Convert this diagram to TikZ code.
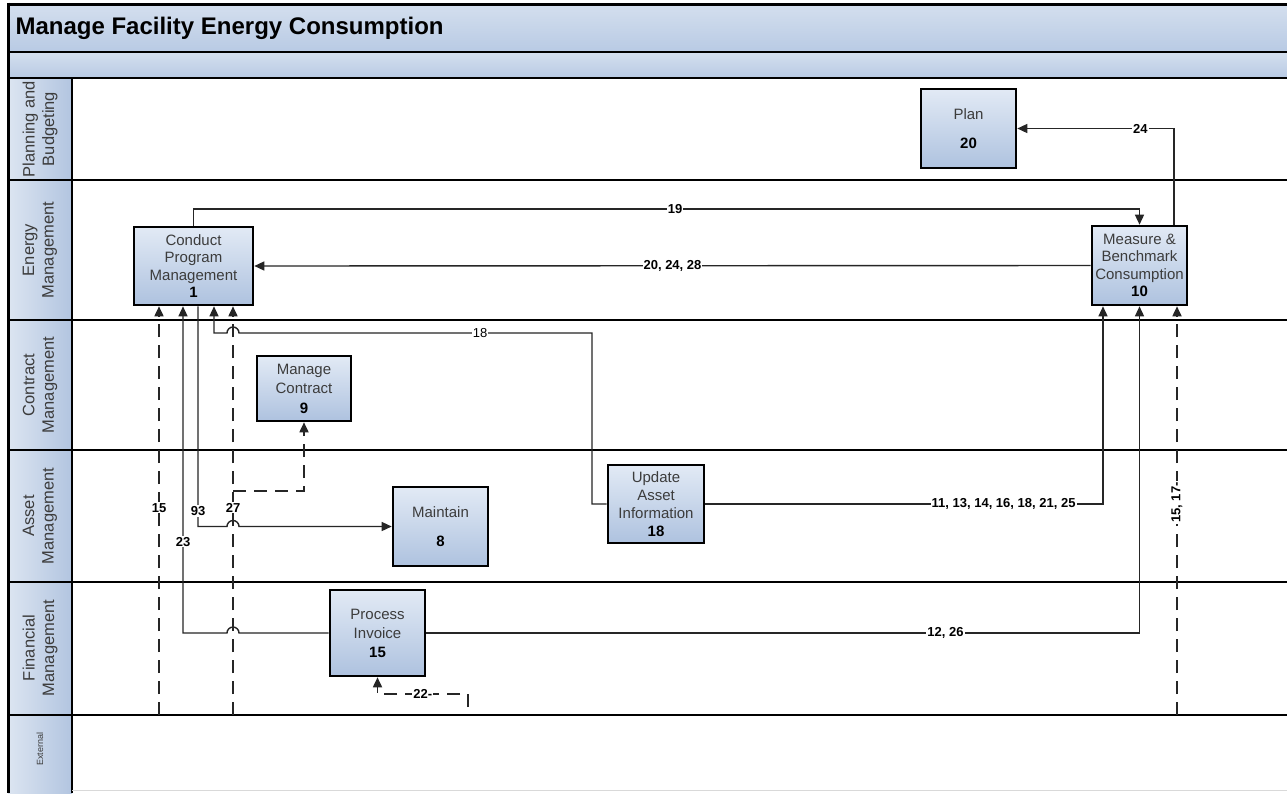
\documentclass[tikz,border=0pt]{standalone}
\usepackage{fontspec}
\setmainfont{Liberation Sans}
\usetikzlibrary{arrows.meta}
\definecolor{boxtop}{HTML}{E2EAF5}
\definecolor{boxbot}{HTML}{AEC2DF}
\definecolor{lanel}{HTML}{DCE5F1}
\definecolor{laner}{HTML}{B2C5E0}
\definecolor{bandtop}{HTML}{D4DFEE}
\definecolor{bandbot}{HTML}{B8CAE4}
\definecolor{txtgrey}{HTML}{3C3C3C}
\begin{document}
\begin{tikzpicture}[x=1pt,y=-1pt,
  proc/.style={draw=black,line width=2.6pt,top color=boxtop,bottom color=boxbot,
    align=center,inner sep=0pt,font=\fontsize{15}{17.5}\selectfont,text=txtgrey},
  conn/.style={line width=1.4pt,draw=black!85},
  arr/.style={-{Triangle[length=10pt,width=9pt]}},
  dsh/.style={line width=1.7pt,dash pattern=on 13pt off 8pt},
  lbl/.style={fill=white,inner sep=1pt,font=\fontsize{13}{13}\selectfont\bfseries},
  plainlbl/.style={fill=white,inner sep=1pt,font=\fontsize{13}{13}\selectfont},
  lane/.style={line width=2.5pt},
  lanelbl/.style={rotate=90,align=center,font=\fontsize{16.5}{19.5}\selectfont,text=txtgrey}
]
\useasboundingbox (0,0) rectangle (1287,793);
\fill[white] (0,0) rectangle (1287,793);
% header bands
\shade[top color=bandtop,bottom color=bandbot] (8,4) rectangle (1287,52);
\shade[top color=bandtop,bottom color=bandbot] (8,52) rectangle (1287,78);
\node[anchor=west,font=\fontsize{24}{24}\selectfont\bfseries] (title) at (12,28) {Manage Facility Energy Consumption};
% lane label column
\shade[left color=lanel,right color=laner] (8,78) rectangle (72,180);
\shade[left color=lanel,right color=laner] (8,180) rectangle (72,320);
\shade[left color=lanel,right color=laner] (8,320) rectangle (72,450);
\shade[left color=lanel,right color=laner] (8,450) rectangle (72,582);
\shade[left color=lanel,right color=laner] (8,582) rectangle (72,715);
\shade[left color=lanel,right color=laner] (8,715) rectangle (72,793);
\node[lanelbl] (l1) at (40,129) {Planning and\\Budgeting};
\node[lanelbl] (l2) at (40,250) {Energy\\Management};
\node[lanelbl] (l3) at (40,385) {Contract\\Management};
\node[lanelbl] (l4) at (40,516) {Asset\\Management};
\node[lanelbl] (l5) at (40,648) {Financial\\Management};
\node[rotate=90,font=\fontsize{9}{9}\selectfont,text=txtgrey] (l6) at (40,749) {External};
% lane lines
\draw[line width=3pt] (8,4) -- (1287,4);
\draw[lane] (8,52) -- (1287,52);
\draw[lane] (8,78) -- (1287,78);
\foreach \yy in {180,320,450,582,715} {\draw[lane] (8,\yy) -- (1287,\yy);}
\draw[line width=3pt] (8,2.5) -- (8,793);
\draw[lane] (72,78) -- (72,793);
\draw[line width=1pt,black!15] (72,790.5) -- (1287,790.5);
% boxes
\node[proc,minimum width=119pt,minimum height=78pt] (b1) at (193.5,266) {Conduct\\Program\\Management\\\textcolor{black}{\textbf{1}}};
\node[proc,minimum width=95pt,minimum height=79pt] (b20) at (968.5,128.5) {Plan\\[12pt]\textcolor{black}{\textbf{20}}};
\node[proc,minimum width=95pt,minimum height=79pt] (b10) at (1139.5,265.5) {Measure \&\\Benchmark\\Consumption\\\textcolor{black}{\textbf{10}}};
\node[proc,minimum width=94pt,minimum height=65pt,font=\fontsize{15}{19.5}\selectfont] (b9) at (304,388.5) {Manage\\Contract\\\textcolor{black}{\textbf{9}}};
\node[proc,minimum width=95pt,minimum height=79pt] (b8) at (440.5,526.5) {Maintain\\[11pt]\textcolor{black}{\textbf{8}}};
\node[proc,minimum width=96pt,minimum height=78pt,font=\fontsize{15}{18}\selectfont] (b18) at (656,504) {Update\\Asset\\Information\\\textcolor{black}{\textbf{18}}};
\node[proc,minimum width=95pt,minimum height=86pt,font=\fontsize{15}{19}\selectfont] (b15) at (377.5,633) {Process\\Invoice\\\textcolor{black}{\textbf{15}}};
% helper coordinates
\coordinate (k19) at (0,209);
\coordinate (k24) at (1174,128.5);
\coordinate (k18) at (592,333);
\coordinate (x214) at (214,0);
\coordinate (x198) at (198,0);
\coordinate (x183) at (183,0);
\coordinate (x159) at (159,0);
\coordinate (x233) at (233,0);
\coordinate (x1103) at (1103,0);
\coordinate (x1177) at (1177,0);
\coordinate (e15) at (159,715);
\coordinate (e27) at (233,715);
\coordinate (e1517) at (1177,715);
\coordinate (k27) at (233,491);
\coordinate (k22) at (468,707);
% connectors
\draw[conn,arr] (b1.north) -- (b1.north |- k19) -- node[lbl,pos=0.509]{19} (b10.north |- k19) -- (b10.north);
\draw[conn,arr] (b10.west) -- node[lbl,pos=0.5]{20, 24, 28} (b1.east);
\draw[conn,arr] (b10.north -| k24) -- (k24) -- node[lbl,pos=0.215]{24} (b20.east);
\draw[conn,arr] (b18.west) -- (b18.west -| k18) -- (k18) -- node[plainlbl,pos=0.317]{18} (239,333)
  arc[start angle=0,end angle=-180,radius=6] -- (x214 |- k18) -- (x214 |- b1.south);
\draw[conn,arr] (x198 |- b1.south) -- node[lbl,pos=0.93]{93} (198,526.5) -- (227,526.5)
  arc[start angle=180,end angle=360,radius=6] -- (b8.west);
\draw[conn,arr] (b15.west) -- (239,633) arc[start angle=0,end angle=-180,radius=6] -- (183,633)
  -- node[lbl,pos=0.28]{23} (x183 |- b1.south);
\draw[conn,dsh,arr] (e15) -- node[lbl,pos=0.507]{15} (x159 |- b1.south);
\draw[conn,dsh,arr] (e27) -- node[lbl,pos=0.507]{27} (x233 |- b1.south);
\draw[conn,dsh,arr] (k27) -| (b9.south);
\draw[conn,arr] (b18.east) -- node[lbl,pos=0.75]{11, 13, 14, 16, 18, 21, 25} (x1103 |- b18.east) -- (x1103 |- b10.south);
\draw[conn,arr] (b15.east) -- node[lbl,pos=0.728]{12, 26} (b10.south |- b15.east) -- (b10.south);
\draw[conn,dsh,arr] (e1517) -- node[lbl,rotate=90,pos=0.52]{15, 17-} (x1177 |- b10.south);
\draw[conn,dsh,arr] (k22) -- (468,694) -- node[lbl]{22-} (b15.south |- 0,694) -- (b15.south);
\end{tikzpicture}
\end{document}
